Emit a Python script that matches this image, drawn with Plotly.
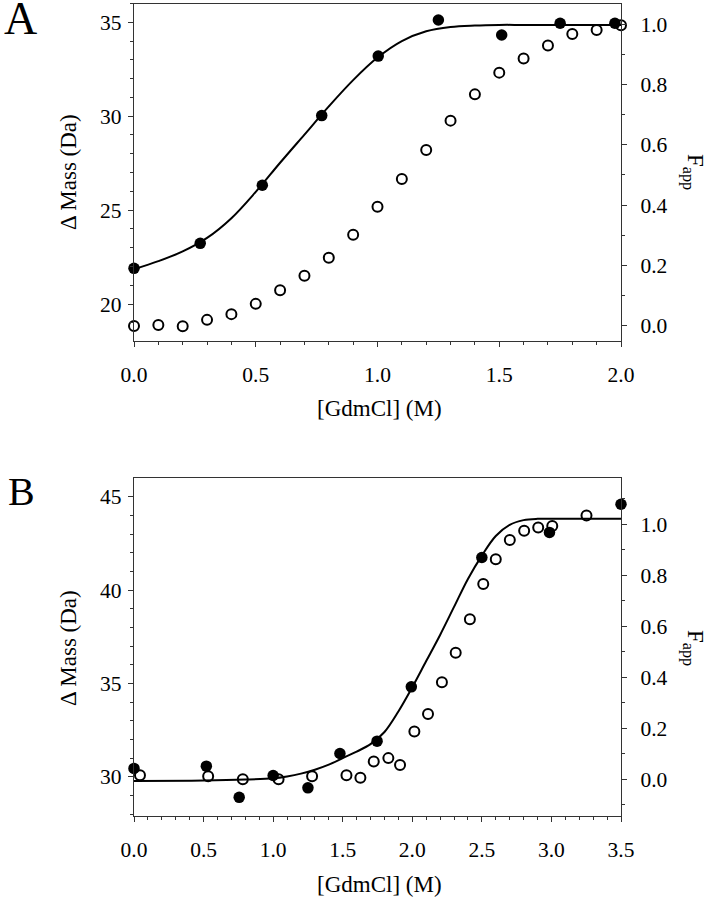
import plotly.graph_objects as go

# ---------------- Panel A data ----------------
xA_filled = [0.0, 0.272, 0.527, 0.771, 1.003, 1.25, 1.51, 1.75, 1.975]
massA_filled = [21.9, 23.23, 26.32, 30.03, 33.2, 35.12, 34.32, 34.95, 34.95]

xA_open = [0.0, 0.1, 0.2, 0.3, 0.4, 0.5, 0.6, 0.7, 0.8, 0.9, 1.0,
           1.1, 1.2, 1.3, 1.4, 1.5, 1.6, 1.7, 1.8, 1.9, 2.0]
fappA_open = [0.0, 0.003, -0.001, 0.02, 0.039, 0.073, 0.118, 0.166, 0.226, 0.302, 0.395,
              0.487, 0.583, 0.68, 0.767, 0.839, 0.886, 0.929, 0.967, 0.98, 0.996]

xA_curve = [0.0, 0.1, 0.2, 0.3, 0.4, 0.5, 0.6, 0.7, 0.8, 0.9, 1.0,
            1.1, 1.2, 1.3, 1.4, 1.5, 1.6, 1.8, 2.0]
massA_curve = [21.85, 22.28, 22.80, 23.52, 24.57, 25.97, 27.52, 29.02, 30.52, 31.92, 33.12,
               34.0, 34.52, 34.75, 34.83, 34.86, 34.86, 34.86, 34.86]

# ---------------- Panel B data ----------------
xB_filled = [0.0, 0.52, 0.756, 1.0, 1.25, 1.48, 1.747, 1.993, 2.5, 2.986, 3.5]
massB_filled = [30.45, 30.57, 28.9, 30.07, 29.41, 31.25, 31.91, 34.82, 41.75, 43.09, 44.6]

xB_open = [0.043, 0.533, 0.782, 1.039, 1.28, 1.527, 1.627, 1.723, 1.828, 1.912, 2.015,
           2.113, 2.213, 2.312, 2.414, 2.51, 2.6, 2.701, 2.804, 2.905, 3.006, 3.252]
fappB_open = [0.016, 0.012, 0.0, 0.0, 0.012, 0.016, 0.006, 0.07, 0.083, 0.056, 0.187,
              0.256, 0.38, 0.496, 0.627, 0.765, 0.862, 0.937, 0.974, 0.986, 0.992, 1.033]

xB_curve = [0.0, 0.5, 0.8, 1.0, 1.1, 1.2, 1.3, 1.4, 1.5, 1.6, 1.7, 1.8, 1.9, 2.0,
            2.1, 2.2, 2.3, 2.4, 2.5, 2.6, 2.7, 2.8, 2.9, 3.0, 3.25, 3.5]
massB_curve = [29.78, 29.80, 29.85, 29.92, 30.02, 30.17, 30.38, 30.65, 31.0, 31.35, 31.75,
               32.4, 33.5, 34.8, 36.2, 37.6, 39.1, 40.6, 41.85, 42.9, 43.5, 43.75, 43.82,
               43.82, 43.82, 43.82]

FONT = "Liberation Serif, Times New Roman, serif"
BLACK = "#000000"
AXIS = "#333333"

W, H = 708, 900


def px(xs):
    return xs / W


def py(ys):
    return 1 - ys / H


fig = go.Figure()

line_style = dict(color=BLACK, width=2, shape="spline", smoothing=1.0)
filled_marker = dict(symbol="circle", size=11.5, color=BLACK)
open_marker = dict(symbol="circle-open", size=10, color=BLACK, line=dict(width=2, color=BLACK))

# Panel A
fig.add_trace(go.Scatter(x=xA_curve, y=massA_curve, mode="lines", line=line_style,
                         xaxis="x", yaxis="y", showlegend=False, hoverinfo="skip"))
fig.add_trace(go.Scatter(x=xA_open, y=fappA_open, mode="markers", marker=open_marker,
                         xaxis="x", yaxis="y2", showlegend=False, cliponaxis=False))
fig.add_trace(go.Scatter(x=xA_filled, y=massA_filled, mode="markers", marker=filled_marker,
                         xaxis="x", yaxis="y", showlegend=False, cliponaxis=False))

# Panel B
fig.add_trace(go.Scatter(x=xB_curve, y=massB_curve, mode="lines", line=line_style,
                         xaxis="x2", yaxis="y3", showlegend=False, hoverinfo="skip"))
fig.add_trace(go.Scatter(x=xB_open, y=fappB_open, mode="markers", marker=open_marker,
                         xaxis="x2", yaxis="y4", showlegend=False, cliponaxis=False))
fig.add_trace(go.Scatter(x=xB_filled, y=massB_filled, mode="markers", marker=filled_marker,
                         xaxis="x2", yaxis="y3", showlegend=False, cliponaxis=False))

xdom = [px(134), px(621)]
domA = [py(341), py(3.5)]
domB = [py(816), py(478.3)]

tickfont = dict(family=FONT, size=21.5, color=BLACK)


def xaxis_cfg(rng, anchor):
    return dict(domain=xdom, range=rng, anchor=anchor, showgrid=False, zeroline=False,
                automargin=False,
                showline=True, linecolor=AXIS, linewidth=1.2, mirror=True,
                ticks="outside", ticklen=5, tickwidth=1, tickcolor=AXIS,
                dtick=0.5, tick0=0, tickformat=".1f", tickfont=tickfont,
                ticklabelstandoff=9,
                minor=dict(dtick=0.1, tick0=0, ticks="outside", ticklen=3, tickcolor=AXIS,
                           showgrid=False))


def yleft_cfg(rng, dom, anchor, dtick, minor):
    return dict(domain=dom, range=rng, anchor=anchor, side="left", showgrid=False,
                zeroline=False, showline=True, linecolor=AXIS, linewidth=1.2,
                automargin=False,
                ticks="outside", ticklen=5, tickwidth=1, tickcolor=AXIS,
                dtick=dtick, tick0=0, tickfont=tickfont, ticklabelstandoff=2,
                minor=dict(dtick=minor, tick0=0, ticks="outside", ticklen=3,
                           tickcolor=AXIS, showgrid=False))


def yright_cfg(rng, overlay, anchor):
    return dict(range=rng, overlaying=overlay, anchor=anchor, side="right", showgrid=False,
                zeroline=False, showline=True, linecolor=AXIS, linewidth=1.2,
                automargin=False,
                ticks="outside", ticklen=5, tickwidth=1, tickcolor=AXIS,
                tickmode="array", tickvals=[0, 0.2, 0.4, 0.6, 0.8, 1.0],
                ticktext=["0.0", "0.2", "0.4", "0.6", "0.8", "1.0"],
                tickfont=tickfont, ticklabelstandoff=9,
                minor=dict(dtick=0.1, tick0=0, ticks="outside", ticklen=3,
                           tickcolor=AXIS, showgrid=False))


fig.update_layout(
    width=W, height=H,
    margin=dict(l=0, r=0, t=0, b=0, autoexpand=False),
    paper_bgcolor="white", plot_bgcolor="white",
    font=dict(family=FONT, color=BLACK),
    xaxis=xaxis_cfg([0, 2.0], "y"),
    yaxis=yleft_cfg([18.03, 36.0], domA, "x", 5, 1),
    yaxis2=yright_cfg([-0.05, 1.068], "y", "x"),
    xaxis2=xaxis_cfg([0, 3.5], "y3"),
    yaxis3=yleft_cfg([27.9, 45.99], domB, "x2", 5, 1),
    yaxis4=yright_cfg([-0.1437, 1.179], "y3", "x2"),
)

ann = []
title_font = dict(family=FONT, size=23, color=BLACK)
# axis titles, panel A
ann.append(dict(text="[GdmCl] (M)", x=px(379), y=py(408), xref="paper", yref="paper",
                showarrow=False, font=title_font, xanchor="center", yanchor="middle"))
ann.append(dict(text="Δ Mass (Da)", x=px(68), y=py(172), xref="paper", yref="paper",
                showarrow=False, font=title_font, textangle=-90, xanchor="center", yanchor="middle"))
ann.append(dict(text="F<sub>app</sub>", x=px(694), y=py(172), xref="paper", yref="paper",
                showarrow=False, font=title_font, textangle=90, xanchor="center", yanchor="middle"))
# axis titles, panel B
ann.append(dict(text="[GdmCl] (M)", x=px(379), y=py(884), xref="paper", yref="paper",
                showarrow=False, font=title_font, xanchor="center", yanchor="middle"))
ann.append(dict(text="Δ Mass (Da)", x=px(68), y=py(648), xref="paper", yref="paper",
                showarrow=False, font=title_font, textangle=-90, xanchor="center", yanchor="middle"))
ann.append(dict(text="F<sub>app</sub>", x=px(694), y=py(648), xref="paper", yref="paper",
                showarrow=False, font=title_font, textangle=90, xanchor="center", yanchor="middle"))
# panel letters
ann.append(dict(text="A", x=px(20), y=py(19), xref="paper", yref="paper", showarrow=False,
                font=dict(family=FONT, size=46, color=BLACK), xanchor="center", yanchor="middle"))
ann.append(dict(text="B", x=px(21), y=py(491), xref="paper", yref="paper", showarrow=False,
                font=dict(family=FONT, size=40, color=BLACK), xanchor="center", yanchor="middle"))
fig.update_layout(annotations=ann)

# remove the default page margin so the figure sits at the window's top-left corner
fig.write_html("out.html", config={"displayModeBar": False},
               post_script="document.body.style.margin='0';document.body.style.overflow='hidden';")
